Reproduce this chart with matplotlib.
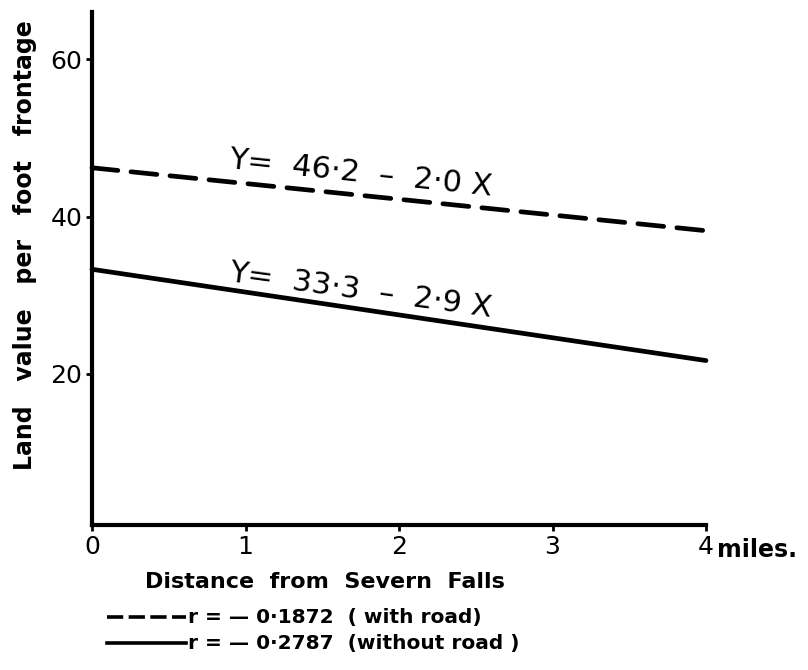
import matplotlib
matplotlib.use("Agg")
import matplotlib.pyplot as plt
import numpy as np
from matplotlib.lines import Line2D

# Regression fits of land value against distance
distance = [0, 4]
with_road = (46.2, -2.0)      # intercept, slope
without_road = (33.3, -2.9)
eq_with_road = "Y=  46·2  –  2·0 X"
eq_without_road = "Y=  33·3  –  2·9 X"
r_with_road = "r = — 0·1872  ( with road)"
r_without_road = "r = — 0·2787  (without road )"
x_ticks = [0, 1, 2, 3, 4]
x_ticklabels = ["0", "1", "2", "3", "4"]
y_ticks = [20, 40, 60]

plt.rcParams["font.family"] = ["DejaVu Sans"]
W, H = 808, 670
fig = plt.figure(figsize=(W / 100, H / 100), dpi=100)
ax = fig.add_axes([92 / W, 1 - 525 / H, (706 - 92) / W, (525 - 12) / H])

x = np.array(distance, dtype=float)
y_road = with_road[0] + with_road[1] * x
y_noroad = without_road[0] + without_road[1] * x

ax.plot(x, y_road, color="black", lw=3.4, linestyle=(0, (5.5, 2.8)),
        dash_capstyle="round", clip_on=False)
ax.plot(x, y_noroad, color="black", lw=3.4, solid_capstyle="round", clip_on=False)

ax.set_xlim(0, 4)
ax.set_ylim(0.8, 66)
ax.set_xticks(x_ticks)
ax.set_xticklabels(x_ticklabels)
ax.set_yticks(y_ticks)
ax.tick_params(axis="both", labelsize=18, width=2, length=4, direction="out", pad=3)

for side in ("top", "right"):
    ax.spines[side].set_visible(False)
for side in ("left", "bottom"):
    ax.spines[side].set_linewidth(3)

ax.text(0.38, -0.111, "Distance  from  Severn  Falls", transform=ax.transAxes,
        fontsize=16, fontweight="bold", ha="center", va="center")
ax.text(-0.109, 0.546, "Land   value   per   foot   frontage", transform=ax.transAxes,
        fontsize=17, fontweight="bold", rotation=90, ha="center", va="center")
ax.text(4.07, -0.025, "miles.", transform=ax.get_xaxis_transform(), fontsize=17,
        fontweight="bold", ha="left", va="top")

# Equations written just above each line
x0 = 0.886
ax.text(x0, with_road[0] + with_road[1] * x0 + 1.8, eq_with_road, fontsize=22,
        rotation=-6.0, ha="left", va="baseline", rotation_mode="anchor")
ax.text(x0, without_road[0] + without_road[1] * x0 + 1.1, eq_without_road, fontsize=22,
        rotation=-7.8, ha="left", va="baseline", rotation_mode="anchor")

# Key below the axis
key = [(617, (0, (4.5, 1.5)), r_with_road), (643, "-", r_without_road)]
for ypix, ls, label in key:
    yf = 1 - ypix / H
    fig.add_artist(Line2D([107 / W, 186 / W], [yf, yf], color="black", lw=2.6,
                          linestyle=ls, transform=fig.transFigure))
    fig.text(188 / W, yf, label, fontsize=14.5, fontweight="bold", ha="left", va="center")

fig.savefig("out.png", dpi=100)
